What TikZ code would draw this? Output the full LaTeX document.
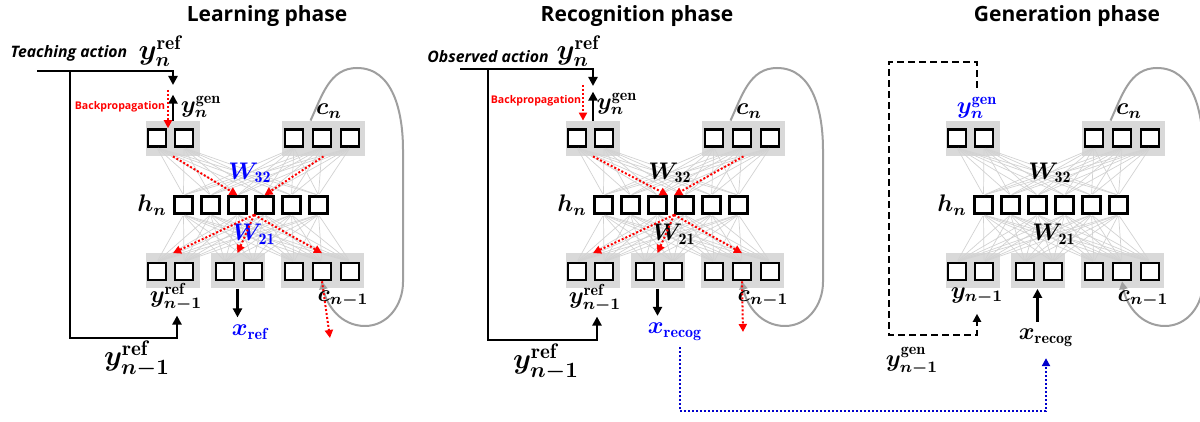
\documentclass[tikz,border=0pt]{standalone}
\usepackage{amsmath}
\usepackage{bm}
\usepackage{fontspec}
\setsansfont{Open Sans}
\usetikzlibrary{arrows.meta}

\tikzset{
  unit/.style={draw,line width=1.3pt,fill=white,minimum width=9pt,
               minimum height=8.5pt,inner sep=0pt},
  grp2/.style={fill=gray!30,minimum width=27pt,minimum height=17.5pt,inner sep=0pt},
  grp3/.style={grp2,minimum width=41.5pt},
  wire/.style={gray!35,line width=0.35pt,shorten <=0.7pt,shorten >=0.7pt},
  recur/.style={gray!75,line width=1pt,-{Triangle[length=4pt,width=4pt]}},
  blk/.style={line width=1.2pt,-{Triangle[length=4.5pt,width=4.5pt]}},
  bprop/.style={red,line width=1pt,dash pattern=on 1pt off 1pt,
                -{Triangle[length=4pt,width=4pt]}},
  fb/.style={line width=1.2pt,dash pattern=on 3.5pt off 2pt,
             -{Triangle[length=4pt,width=4pt]}},
  link/.style={blue!80!black,line width=1pt,dash pattern=on 1pt off 1pt,
               -{Triangle[length=4pt,width=4pt]}},
  sym/.style={inner sep=0.5pt,font=\fontsize{12}{13}\selectfont},
  symbig/.style={inner sep=0.5pt,font=\fontsize{14}{15}\selectfont},
  symhuge/.style={inner sep=0.5pt,font=\fontsize{15}{17}\selectfont},
  ttl/.style={font=\sffamily\bfseries\fontsize{10.5}{12}\selectfont},
  act/.style={font=\sffamily\bfseries\itshape\fontsize{7.9}{9}\selectfont},
  bptxt/.style={text=red,font=\sffamily\bfseries\fontsize{5.3}{6}\selectfont},
}

% one network: units, weights and the context loop
\newcommand{\netcore}[1]{%
  \node[grp2] (gy)  at (173,283.5) {};
  \node[grp3] (gc)  at (323.5,283.5) {};
  \node[grp2] (gyb) at (173,151) {};
  \node[grp2] (gx)  at (237.5,151) {};
  \node[grp3] (gcb) at (322,151) {};
  \foreach \i/\x in {1/157,2/184,3/294,4/322,5/350}
    \node[unit] (t\i) at (\x,284) {};
  \foreach \i in {1,...,6}
    \node[unit] (h\i) at (156.5+27*\i,217) {};
  \foreach \i/\x in {1/157,2/184,3/225,4/253,5/294,6/322,7/350}
    \node[unit] (b\i) at (\x,150.5) {};
  \foreach \u in {1,...,5}
    \foreach \v in {1,...,6}
      \draw[wire] (t\u.south) -- (h\v.north);
  \foreach \u in {1,...,6}
    \foreach \v in {1,...,7}
      \draw[wire] (h\u.south) -- (b\v.north);
  \draw[recur] (gc.north) ++(-13,0) to[out=65,in=180] (357,354)
       to[out=0,in=90] (403,272) -- (403,140)
       to[out=-90,in=0] (365,96) to[out=180,in=-80] (b6.south);
  \node[sym] (hlab) at (152,217) {$\bm{h}_{\bm{n}}$};
  \node[sym] (cnow) at (329,311) {$\bm{c}_{\bm{n}}$};
  \node[sym] (cprev) at (343,123) {$\bm{c}_{\bm{n-1}}$};
  \node[sym,text=#1] (w32) at (250,249) {$\bm{W}_{\mathbf{32}}$};
  \node[sym,text=#1] (w21) at (254,188) {$\bm{W}_{\mathbf{21}}$};
}

\begin{document}
\begin{tikzpicture}[x=0.5pt,y=0.5pt]
  \useasboundingbox (0,0) rectangle (1200,422);
  % learning
  \begin{scope}[name prefix=L-]
    \netcore{blue}
    \node[ttl] (title) at (267,406) {Learning phase};
    \node[act] (act) at (69,369) {Teaching action};
    \node[symbig] (yref) at (160,371) {$\bm{y}_{\bm{n}}^{\mathbf{ref}}$};
    \node[sym] (ygen) at (201,315) {$\bm{y}_{\bm{n}}^{\mathbf{gen}}$};
    \node[bptxt] (bp) at (120,315) {Backpropagation};
    \node[sym] (yprev) at (176,125) {$\bm{y}_{\bm{n-1}}^{\mathbf{ref}}$};
    \node[sym,text=blue] (xlab) at (250,90) {$\bm{x}_{\mathbf{ref}}$};
    \node[symhuge] (yold) at (137,63) {$\bm{y}_{\bm{n-1}}^{\mathbf{ref}}$};
    \coordinate (src) at (37,351);
    \coordinate (fork) at (70,351);
    \coordinate (tip) at (173,337);
    \coordinate (low) at (177,84);
    \coordinate (bpsrc) at (168,332);
    \coordinate (cout) at (330,84);
    \draw[blk] (src) -| (tip);
    \draw[blk,shorten >=1.5pt] (fork) |- (low) -- (low |- yprev.south);
    \draw[blk] (gy.north) -- (gy.north |- ygen.north);
    \draw[bprop] (bpsrc) -- (bpsrc |- t1.north);
    \draw[bprop] (gy.south) -- (h3.north);
    \draw[bprop] (gc.south) -- (h4.north);
    \draw[bprop] (h4.south west) -- (gyb.north);
    \draw[bprop] (h4.south west) -- (gx.north);
    \draw[bprop] (h4.south west) -- (gcb.north);
    \draw[bprop] (b6.south) -- (cout);
    \draw[blk,shorten >=3pt] (gx.south) -- (gx.south |- xlab.north);
  \end{scope}
  % recognition
  \begin{scope}[shift={(420,0)},name prefix=R-]
    \netcore{black}
    \node[ttl] (title) at (217,406) {Recognition phase};
    \node[act] (act) at (68,365) {Observed action};
    \node[symbig] (yref) at (158,371) {$\bm{y}_{\bm{n}}^{\mathbf{ref}}$};
    \node[sym] (ygen) at (197,318) {$\bm{y}_{\bm{n}}^{\mathbf{gen}}$};
    \node[bptxt] (bp) at (116,321) {Backpropagation};
    \node[sym] (yprev) at (175,124) {$\bm{y}_{\bm{n-1}}^{\mathbf{ref}}$};
    \node[sym,text=blue] (xlab) at (255,90) {$\bm{x}_{\mathbf{recog}}$};
    \node[symhuge] (yold) at (126,60) {$\bm{y}_{\bm{n-1}}^{\mathbf{ref}}$};
    \coordinate (src) at (40,353);
    \coordinate (fork) at (68,353);
    \coordinate (tip) at (173,336);
    \coordinate (low) at (177,82);
    \coordinate (bpsrc) at (163,337);
    \coordinate (cout) at (323,90);
    \draw[blk] (src) -| (tip);
    \draw[blk,shorten >=1.5pt] (fork) |- (low) -- (low |- yprev.south);
    \draw[blk] (gy.north) -- (gy.north |- ygen.north);
    \draw[bprop] (bpsrc) -- (bpsrc |- gy.north);
    \draw[bprop] (gy.south) -- (h3.north east);
    \draw[bprop] (gc.south) -- (h4.north west);
    \draw[bprop] (h4.south west) -- (gyb.north);
    \draw[bprop] (h4.south west) -- (gx.north);
    \draw[bprop] (h4.south west) -- (gcb.north);
    \draw[bprop] (b6.south) -- (cout);
    \draw[blk,shorten >=3pt] (gx.south) -- (gx.south |- xlab.north);
  \end{scope}
  % generation
  \begin{scope}[shift={(800,0)},name prefix=G-]
    \netcore{black}
    \node[ttl] (title) at (267,406) {Generation phase};
    \node[sym,text=blue] (ygen) at (177,314) {$\bm{y}_{\bm{n}}^{\mathbf{gen}}$};
    \node[sym] (yprev) at (177,126) {$\bm{y}_{\bm{n-1}}$};
    \node[sym] (xlab) at (246,84) {$\bm{x}_{\mathbf{recog}}$};
    \node[sym] (yold) at (112,61) {$\bm{y}_{\bm{n-1}}^{\mathbf{gen}}$};
    \coordinate (up) at (89,360);
    \coordinate (dn) at (89,87);
    \draw[fb,shorten <=4pt,shorten >=4pt] (ygen.north) |- (up) -- (dn) -| (yprev.south);
    \draw[blk,shorten <=3pt] (gx.south |- xlab.north) -- (gx.south);
  \end{scope}
  % recognised x handed over
  \coordinate (hop) at (680,11);
  \draw[link,shorten <=2.5pt,shorten >=5pt] (R-xlab.south -| hop) -- (hop) -| (G-xlab.south);
\end{tikzpicture}
\end{document}
